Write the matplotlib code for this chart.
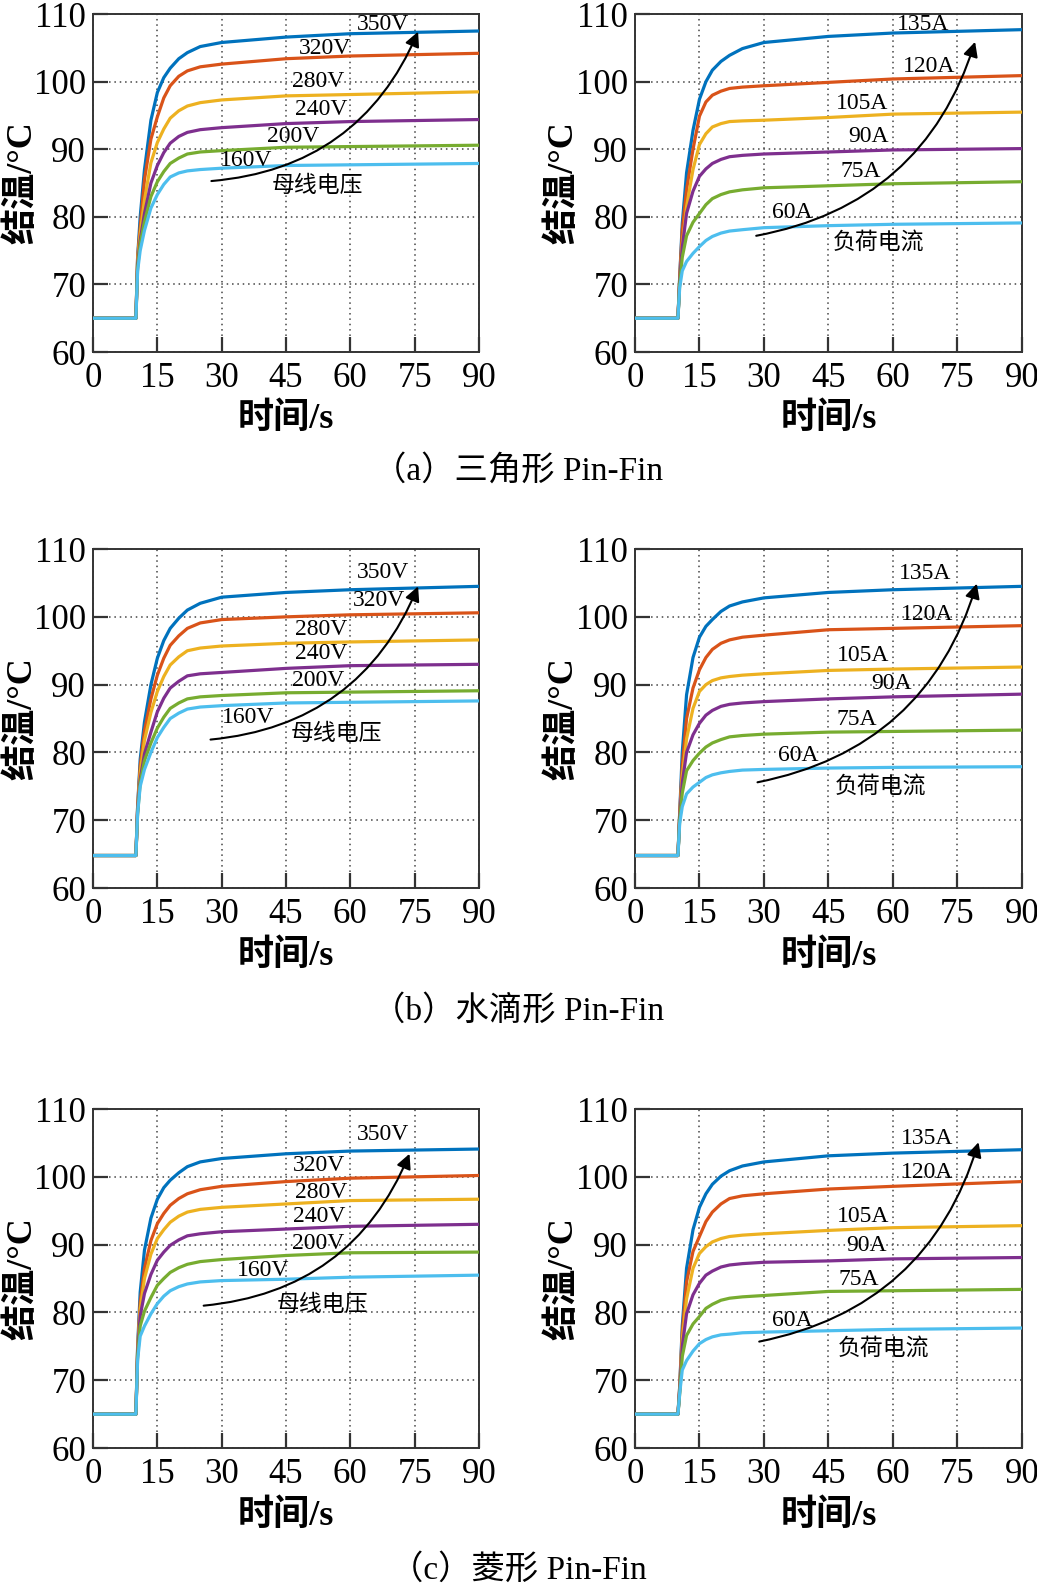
import numpy as np
import matplotlib.pyplot as plt

plt.rcParams['font.family'] = ['Liberation Serif', 'Noto Sans CJK SC']
plt.rcParams['axes.unicode_minus'] = False

# sample times (s)
time_s = [0, 10, 10.4, 11, 12, 13.5, 15, 16.5, 18, 20, 22, 25, 30, 45, 60, 90]

volt_labels = ['350V', '320V', '280V', '240V', '200V', '160V']
curr_labels = ['135A', '120A', '105A', '90A', '75A', '60A']

# (a) triangle pin-fin, junction temperature vs bus voltage
tri_volt = [
    [65, 65, 74.0, 80.0, 87.0, 94.3, 98.4, 100.6, 102.0, 103.4, 104.3, 105.2, 105.8, 106.6, 107.1, 107.5],
    [65, 65, 74.0, 78.5, 85.5, 91.5, 94.8, 97.6, 99.4, 100.8, 101.6, 102.2, 102.6, 103.4, 103.8, 104.2],
    [65, 65, 73.5, 77.5, 82.5, 88.0, 91.0, 93.0, 94.6, 95.7, 96.4, 96.9, 97.3, 97.9, 98.1, 98.5],
    [65, 65, 73.0, 76.5, 80.5, 85.0, 87.6, 89.5, 90.9, 91.9, 92.5, 92.9, 93.2, 93.8, 94.1, 94.4],
    [65, 65, 72.5, 76.0, 79.3, 83.0, 85.2, 86.7, 87.9, 88.7, 89.3, 89.6, 89.8, 90.3, 90.4, 90.6],
    [65, 65, 72.0, 75.0, 78.0, 81.3, 83.3, 84.8, 85.9, 86.5, 86.8, 87.0, 87.2, 87.6, 87.7, 87.9],
]
# (a) triangle pin-fin, junction temperature vs load current
tri_curr = [
    [65, 65, 71.0, 79.0, 86.5, 92.8, 97.4, 100.0, 101.7, 103.0, 103.9, 104.9, 105.8, 106.7, 107.2, 107.7],
    [65, 65, 71.0, 78.0, 84.0, 90.0, 94.9, 97.0, 98.0, 98.6, 99.0, 99.2, 99.4, 99.9, 100.4, 100.9],
    [65, 65, 70.5, 76.0, 81.5, 87.0, 90.7, 92.3, 93.3, 93.8, 94.1, 94.2, 94.3, 94.7, 95.2, 95.5],
    [65, 65, 70.5, 75.5, 80.5, 83.8, 86.0, 87.1, 87.9, 88.5, 88.9, 89.1, 89.3, 89.6, 89.9, 90.1],
    [65, 65, 70.0, 74.0, 77.2, 79.2, 80.5, 81.8, 82.7, 83.3, 83.7, 84.0, 84.3, 84.6, 84.9, 85.2],
    [65, 65, 69.5, 72.0, 73.4, 74.6, 75.6, 76.5, 77.1, 77.6, 77.9, 78.1, 78.4, 78.7, 78.9, 79.1],
]
# (b) water-drop pin-fin
drop_volt = [
    [64.8, 64.8, 72.0, 79.0, 84.5, 90.0, 93.9, 96.5, 98.3, 99.8, 101.0, 102.0, 102.9, 103.6, 104.0, 104.5],
    [64.8, 64.8, 72.0, 78.0, 83.2, 87.9, 91.4, 93.9, 95.8, 97.2, 98.3, 99.1, 99.6, 100.0, 100.3, 100.6],
    [64.8, 64.8, 71.5, 77.0, 81.8, 85.9, 89.0, 91.2, 92.9, 94.1, 95.0, 95.4, 95.7, 96.1, 96.3, 96.6],
    [64.8, 64.8, 71.5, 76.0, 79.8, 83.0, 86.0, 88.0, 89.5, 90.5, 91.3, 91.6, 91.8, 92.4, 92.8, 93.0],
    [64.8, 64.8, 71.0, 75.5, 78.8, 81.4, 83.6, 85.2, 86.5, 87.3, 87.9, 88.2, 88.4, 88.8, 88.9, 89.1],
    [64.8, 64.8, 71.0, 75.0, 77.5, 80.0, 82.2, 83.7, 85.0, 85.8, 86.4, 86.7, 86.9, 87.3, 87.4, 87.6],
]
drop_curr = [
    [64.8, 64.8, 71.0, 80.0, 88.5, 94.0, 97.0, 98.6, 99.6, 100.8, 101.6, 102.2, 102.8, 103.6, 104.0, 104.5],
    [64.8, 64.8, 71.0, 78.0, 85.0, 89.5, 92.2, 94.0, 95.2, 96.1, 96.6, 97.0, 97.3, 98.1, 98.3, 98.7],
    [64.8, 64.8, 70.5, 76.5, 82.0, 86.5, 89.0, 90.0, 90.6, 91.0, 91.2, 91.4, 91.6, 92.1, 92.3, 92.6],
    [64.8, 64.8, 70.5, 75.5, 80.0, 82.6, 84.3, 85.5, 86.2, 86.8, 87.1, 87.3, 87.5, 87.9, 88.2, 88.6],
    [64.8, 64.8, 70.0, 74.0, 77.3, 78.8, 79.9, 80.8, 81.4, 81.9, 82.3, 82.5, 82.7, 83.0, 83.1, 83.3],
    [64.8, 64.8, 69.5, 72.0, 73.9, 74.9, 75.6, 76.3, 76.7, 77.0, 77.2, 77.4, 77.5, 77.7, 77.8, 77.9],
]
# (c) diamond pin-fin
dia_volt = [
    [65, 65, 75.0, 83.0, 89.2, 93.9, 96.7, 98.4, 99.5, 100.6, 101.5, 102.2, 102.7, 103.4, 103.8, 104.1],
    [65, 65, 74.5, 81.5, 86.5, 90.6, 93.1, 94.6, 95.8, 96.8, 97.5, 98.1, 98.6, 99.3, 99.8, 100.2],
    [65, 65, 74.5, 80.5, 85.0, 88.6, 90.9, 92.2, 93.3, 94.2, 94.8, 95.2, 95.5, 96.0, 96.5, 96.7],
    [65, 65, 74.0, 79.5, 82.8, 85.6, 87.7, 88.9, 89.9, 90.7, 91.3, 91.6, 91.9, 92.3, 92.7, 93.0],
    [65, 65, 73.5, 78.0, 80.2, 82.2, 84.0, 85.0, 85.9, 86.6, 87.1, 87.5, 87.8, 88.4, 88.8, 88.9],
    [65, 65, 73.0, 76.5, 78.0, 79.8, 81.3, 82.4, 83.2, 83.8, 84.2, 84.5, 84.7, 84.9, 85.2, 85.5],
]
dia_curr = [
    [65, 65, 69.0, 78.0, 86.5, 92.2, 95.5, 97.5, 98.9, 100.1, 100.9, 101.6, 102.2, 103.1, 103.5, 104.0],
    [65, 65, 69.0, 77.0, 84.5, 89.0, 91.2, 93.4, 94.8, 96.0, 96.8, 97.2, 97.5, 98.2, 98.6, 99.3],
    [65, 65, 68.5, 76.0, 82.0, 86.5, 88.7, 89.7, 90.4, 90.9, 91.2, 91.4, 91.6, 92.1, 92.5, 92.8],
    [65, 65, 68.5, 75.0, 79.8, 82.6, 84.3, 85.5, 86.1, 86.7, 87.0, 87.2, 87.4, 87.6, 87.9, 88.1],
    [65, 65, 68.0, 73.5, 76.6, 78.3, 79.4, 80.6, 81.2, 81.8, 82.1, 82.3, 82.5, 83.1, 83.2, 83.4],
    [65, 65, 68.0, 71.5, 72.9, 74.3, 75.4, 76.0, 76.4, 76.7, 76.8, 77.0, 77.1, 77.3, 77.5, 77.7],
]

captions = ['（a）三角形 Pin-Fin', '（b）水滴形 Pin-Fin', '（c）菱形 Pin-Fin']

colors = ['#0072BD', '#D95319', '#EDB120', '#7E2F8E', '#77AC30', '#4DBEEE']

# label placement (t, T) per panel, and arrow start/end
panels = [
    dict(data=tri_volt, labels=volt_labels, rect=[0.0897, 0.7779, 0.3722, 0.2132],
         pos=[(67.6, 108.5), (54.0, 104.9), (52.4, 100.0), (53.2, 95.9), (46.6, 91.9), (35.7, 88.3)],
         name='母线电压', name_pos=(52.4, 84.5), arrow=((27.6, 85.3), (75.8, 107.4))),
    dict(data=tri_curr, labels=curr_labels, rect=[0.6123, 0.7779, 0.3732, 0.2132],
         pos=[(67.1, 108.5), (68.3, 102.3), (52.8, 96.7), (54.3, 91.9), (52.4, 86.7), (36.5, 80.6)],
         name='负荷电流', name_pos=(56.6, 76.1), arrow=((28.2, 77.2), (79.1, 105.9))),
    dict(data=drop_volt, labels=volt_labels, rect=[0.0897, 0.4397, 0.3722, 0.2139],
         pos=[(67.6, 106.6), (66.8, 102.4), (53.2, 98.2), (53.2, 94.6), (52.4, 90.6), (36.1, 85.1)],
         name='母线电压', name_pos=(56.7, 82.7), arrow=((27.4, 81.9), (75.8, 104.5))),
    dict(data=drop_curr, labels=curr_labels, rect=[0.6123, 0.4397, 0.3732, 0.2139],
         pos=[(67.5, 106.4), (67.9, 100.3), (53.1, 94.3), (59.7, 90.2), (51.6, 84.9), (38.0, 79.6)],
         name='负荷电流', name_pos=(57.0, 74.9), arrow=((28.5, 75.6), (79.5, 104.9))),
    dict(data=dia_volt, labels=volt_labels, rect=[0.0897, 0.0864, 0.3722, 0.2139],
         pos=[(67.6, 106.2), (52.8, 101.6), (53.2, 97.7), (52.8, 94.2), (52.4, 90.2), (39.6, 86.2)],
         name='母线电压', name_pos=(53.6, 81.0), arrow=((25.8, 81.0), (73.8, 103.4))),
    dict(data=dia_curr, labels=curr_labels, rect=[0.6123, 0.0864, 0.3732, 0.2139],
         pos=[(67.9, 105.6), (67.9, 100.7), (53.1, 94.2), (53.9, 89.9), (52.0, 84.9), (36.5, 78.8)],
         name='负荷电流', name_pos=(57.8, 74.7), arrow=((28.9, 75.7), (79.9, 105.1))),
]

fig = plt.figure(figsize=(10.37, 15.85), dpi=100)

for p in panels:
    ax = fig.add_axes(p['rect'])
    for k, series in enumerate(p['data']):
        ax.plot(time_s, series, color=colors[k], lw=2.3, zorder=3,
                solid_joinstyle='round')
    for lab, (tx, ty) in zip(p['labels'], p['pos']):
        ax.text(tx, ty, lab, fontsize=17, ha='center', va='center', zorder=4)
    ax.text(p['name_pos'][0], p['name_pos'][1], p['name'], fontsize=16.5,
            ha='center', va='center', zorder=4)
    (x0, y0), (x1, y1) = p['arrow']
    ax.annotate('', xy=(x1, y1), xytext=(x0, y0), zorder=5,
                arrowprops=dict(arrowstyle='-|>', color='black', lw=1.5,
                                mutation_scale=22, shrinkA=0, shrinkB=0,
                                connectionstyle='arc3,rad=0.3'))

    ax.set_xlim(0, 90)
    ax.set_ylim(60, 110)
    ax.set_xticks(np.arange(0, 91, 15))
    ax.set_yticks(np.arange(60, 111, 10))
    ax.grid(True, color='#444444', linestyle=(0, (1, 2.5)), lw=1.1)
    ax.set_axisbelow(True)
    ax.tick_params(direction='in', length=11, width=1.6, color='#333333',
                   labelsize=25, top=False, right=False)
    ax.tick_params(axis='x', pad=7)
    ax.tick_params(axis='y', pad=5)
    for s in ax.spines.values():
        s.set_color('#333333')
        s.set_linewidth(1.4)

    ax.set_xlabel('时间/s', fontsize=26, fontweight='bold')
    ax.set_ylabel('结温/°C', fontsize=26, fontweight='bold')
    ax.xaxis.set_label_coords(0.5, -0.15)
    ax.yaxis.set_label_coords(-0.14, 0.5)

cap_y = [0.703, 0.362, 0.0095]
for cap, cy in zip(captions, cap_y):
    fig.text(0.5, cy, cap, fontsize=24, ha='center', va='center')

plt.savefig('out.png', dpi=100)
